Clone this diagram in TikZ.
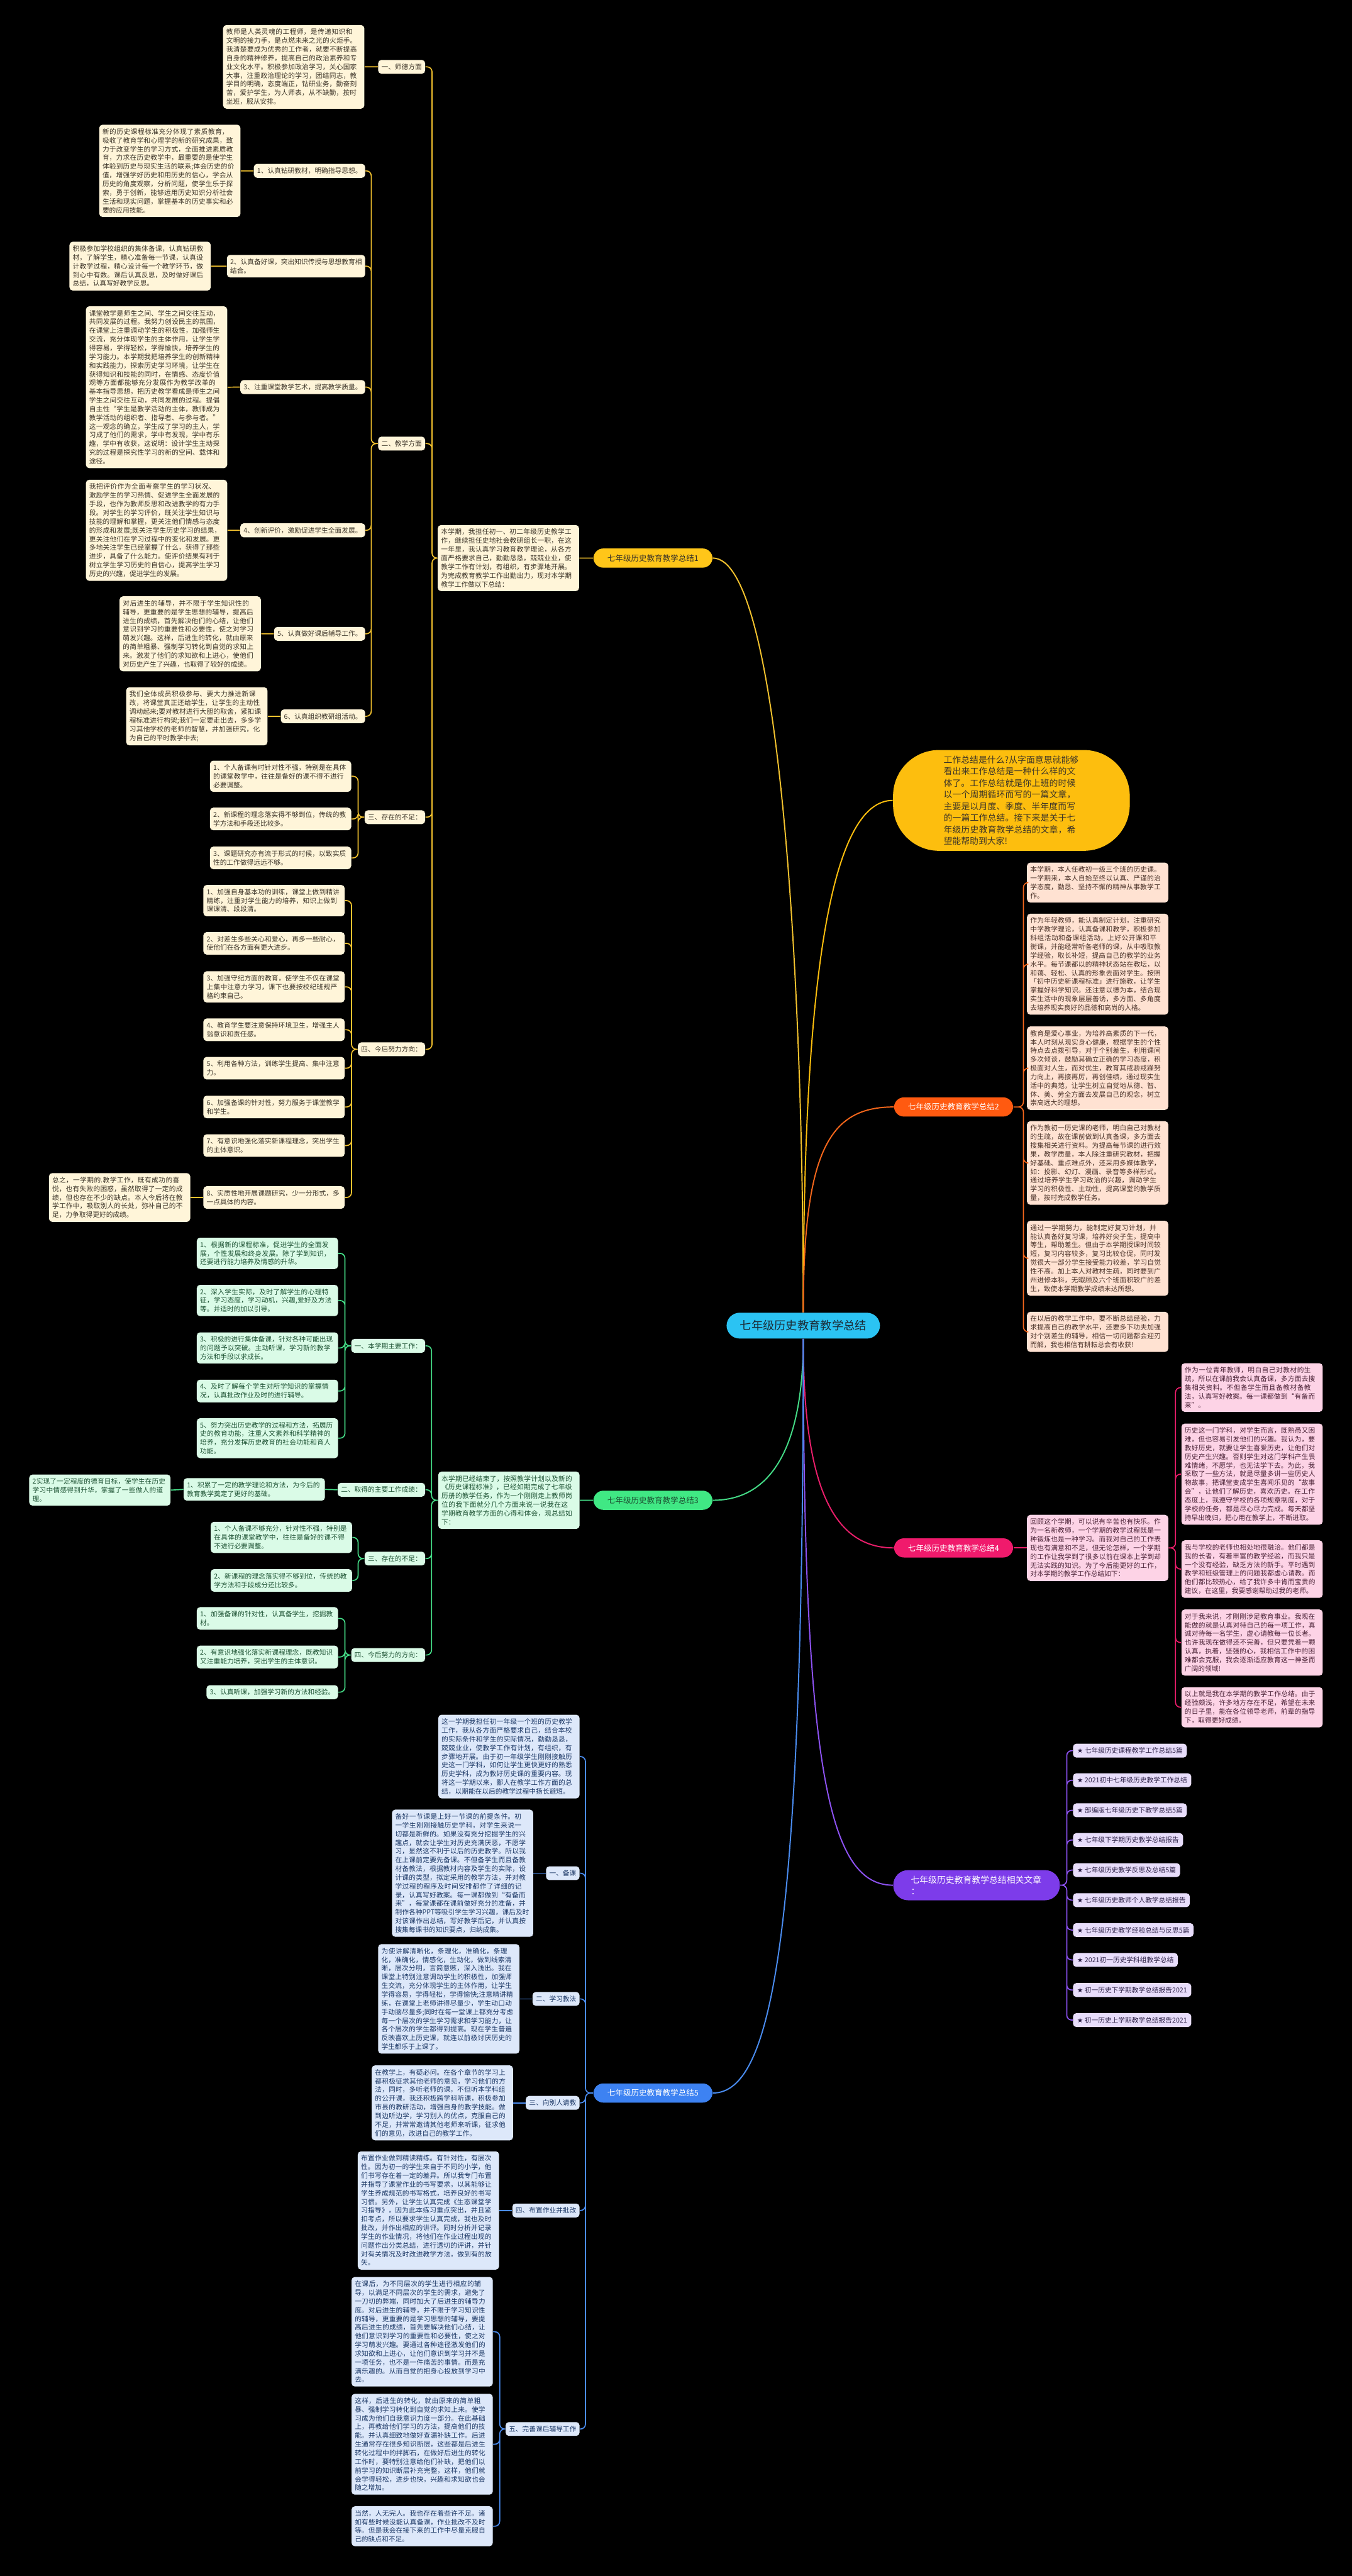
\documentclass[tikz,border=0pt]{standalone}
\usepackage{fontspec}
\setmainfont{Noto Sans CJK SC}
\newfontfamily\symfont{DejaVu Sans}
\XeTeXlinebreaklocale "zh"
\XeTeXlinebreakskip=0pt plus 0.3pt
\definecolor{rootF}{HTML}{2BC3F3}
\definecolor{rootT}{HTML}{1B2B36}
\definecolor{yNode}{HTML}{FFC619}
\definecolor{yBox}{HTML}{FFF5D9}
\definecolor{yTxt}{HTML}{3C3428}
\definecolor{yLine}{HTML}{F2C12E}
\definecolor{ellF}{HTML}{FDBE0E}
\definecolor{oNode}{HTML}{FF5A10}
\definecolor{oBox}{HTML}{FFE2D2}
\definecolor{oTxt}{HTML}{4A3228}
\definecolor{oLine}{HTML}{F4661B}
\definecolor{gNode}{HTML}{40E884}
\definecolor{gBox}{HTML}{DAFBE7}
\definecolor{gTxt}{HTML}{1D5233}
\definecolor{gLine}{HTML}{44DB86}
\definecolor{pNode}{HTML}{F01A6C}
\definecolor{pBox}{HTML}{FDD3E6}
\definecolor{pTxt}{HTML}{4A2236}
\definecolor{pLine}{HTML}{E91E6A}
\definecolor{bNode}{HTML}{3D82F2}
\definecolor{bBox}{HTML}{DDE8FA}
\definecolor{bTxt}{HTML}{1C3866}
\definecolor{bLine}{HTML}{4A8CF0}
\definecolor{vNode}{HTML}{7D3CEA}
\definecolor{vBox}{HTML}{E8DDFB}
\definecolor{vTxt}{HTML}{2E2248}
\definecolor{vLine}{HTML}{8D52F2}
\tikzset{
  base/.style={rounded corners=2pt, inner xsep=2pt, inner ysep=2.3pt, align=left, font=\fontsize{4.1}{5.3}\selectfont},
  para/.style={base, text width=82pt},
  pill/.style={rounded corners=6pt, inner xsep=8.5pt, inner ysep=3.6pt, font=\fontsize{4.8}{6}\selectfont},
  yb/.style={fill=yBox, text=yTxt},
  ob/.style={fill=oBox, text=oTxt},
  gb/.style={fill=gBox, text=gTxt},
  pb/.style={fill=pBox, text=pTxt},
  bb/.style={fill=bBox, text=bTxt},
  vb/.style={fill=vBox, text=vTxt},
  link/.style={line width=0.65pt, rounded corners=3pt},
  curve/.style={line width=0.75pt}
}
\begin{document}
\begin{tikzpicture}[x=1pt, y=-1pt]
\fill[black] (0,0) rectangle (823,1568);
\useasboundingbox (0,0) rectangle (823,1568);

\node[fill=rootF, text=rootT, rounded corners=8pt, inner xsep=8.2pt, inner ysep=4.6pt, font=\fontsize{7}{8}\selectfont] (root) at (489,806.9) {七年级历史教育教学总结};

\node[pill, fill=yNode, text=yTxt] (n1) at (397.5,339.7) {七年级历史教育教学总结1};
\node[para, yb, anchor=east] (n1in) at (352.7,339.7) {本学期，我担任初一、初二年级历史教学工作，继续担任史地社会教研组长一职，在这一年里，我认真学习教育教学理论，从各方面严格要求自己，勤勤恳恳，兢兢业业，使教学工作有计划，有组织，有步骤地开展。为完成教育教学工作出勤出力，现对本学期教学工作做以下总结：};
\coordinate (bus1) at (263,0);
\node[base, yb, anchor=east] (n1a) at (259,40.7) {一、师德方面};
\node[para, yb, anchor=east] (n1at) at (222,40.7) {教师是人类灵魂的工程师，是传递知识和文明的接力手，是点燃未来之光的火炬手。我清楚要成为优秀的工作者，就要不断提高自身的精神修养，提高自己的政治素养和专业文化水平。积极参加政治学习，关心国家大事，注重政治理论的学习，团结同志，教学目的明确，态度端正，钻研业务，勤奋刻苦，爱护学生，为人师表，从不缺勤，按时坐班，服从安排。};
\node[base, yb, anchor=east] (n1b) at (259,270) {二、教学方面};
\coordinate (bus1b) at (226,0);
\node[base, yb, anchor=east] (n1b1) at (222.5,104) {1、认真钻研教材，明确指导思想。};
\node[para, yb, anchor=east] (n1b1t) at (146.6,104) {新的历史课程标准充分体现了素质教育，吸收了教育学和心理学的新的研究成果，致力于改变学生的学习方式，全面推进素质教育，力求在历史教学中，最重要的是使学生体验到历史与现实生活的联系;体会历史的价值，增强学好历史和用历史的信心，学会从历史的角度观察，分析问题，使学生乐于探索，勇于创新，能够运用历史知识分析社会生活和现实问题，掌握基本的历史事实和必要的应用技能。};
\node[base, yb, anchor=east] (n1b2) at (222.5,162) {2、认真备好课，突出知识传授与思想教育相\\结合。};
\node[para, yb, anchor=east] (n1b2t) at (128.5,162) {积极参加学校组织的集体备课，认真钻研教材，了解学生，精心准备每一节课，认真设计教学过程，精心设计每一个教学环节，做到心中有数。课后认真反思，及时做好课后总结，认真写好教学反思。};
\node[base, yb, anchor=east] (n1b3) at (222.5,235.6) {3、注重课堂教学艺术，提高教学质量。};
\node[para, yb, anchor=east] (n1b3t) at (138.5,235.7) {课堂教学是师生之间、学生之间交往互动，共同发展的过程。我努力创设民主的氛围，在课堂上注重调动学生的积极性，加强师生交流，充分体现学生的主体作用，让学生学得容易，学得轻松，学得愉快，培养学生的学习能力。本学期我把培养学生的创新精神和实践能力，探索历史学习环境，让学生在获得知识和技能的同时，在情感、态度价值观等方面都能够充分发展作为教学改革的基本指导思想，把历史教学看成是师生之间学生之间交往互动，共同发展的过程。提倡自主性“学生是教学活动的主体，教师成为教学活动的组织者、指导者、与参与者。”这一观念的确立，学生成了学习的主人，学习成了他们的需求，学中有发现，学中有乐趣，学中有收获，这说明：设计学生主动探究的过程是探究性学习的新的空间、载体和途径。};
\node[base, yb, anchor=east] (n1b4) at (222.5,322.8) {4、创新评价，激励促进学生全面发展。};
\node[para, yb, anchor=east] (n1b4t) at (138.5,322.8) {我把评价作为全面考察学生的学习状况、激励学生的学习热情、促进学生全面发展的手段，也作为教师反思和改进教学的有力手段。对学生的学习评价，既关注学生知识与技能的理解和掌握，更关注他们情感与态度的形成和发展;既关注学生历史学习的结果，更关注他们在学习过程中的变化和发展。更多地关注学生已经掌握了什么，获得了那些进步，具备了什么能力。使评价结果有利于树立学生学习历史的自信心，提高学生学习历史的兴趣，促进学生的发展。};
\node[base, yb, anchor=east] (n1b5) at (222.5,385.8) {5、认真做好课后辅导工作。};
\node[para, yb, anchor=east] (n1b5t) at (159,385.8) {对后进生的辅导，并不限于学生知识性的辅导，更重要的是学生思想的辅导，提高后进生的成绩，首先解决他们的心结，让他们意识到学习的重要性和必要性，使之对学习萌发兴趣。这样，后进生的转化，就由原来的简单粗暴、强制学习转化到自觉的求知上来。激发了他们的求知欲和上进心，使他们对历史产生了兴趣，也取得了较好的成绩。};
\node[base, yb, anchor=east] (n1b6) at (222.5,436) {6、认真组织教研组活动。};
\node[para, yb, anchor=east] (n1b6t) at (163,436) {我们全体成员积极参与、要大力推进新课改，将课堂真正还给学生，让学生的主动性调动起来;要对教材进行大胆的取舍，紧扣课程标准进行构架;我们一定要走出去，多多学习其他学校的老师的智慧，并加强研究，化为自己的平时教学中去;};
\node[base, yb, anchor=east] (n1c) at (259,497.4) {三、存在的不足：};
\coordinate (bus1c) at (218,0);
\node[para, yb, anchor=east] (n1c1) at (214,472.5) {1、个人备课有时针对性不强，特别是在具体的课堂教学中，往往是备好的课不得不进行必要调整。};
\node[para, yb, anchor=east] (n1c2) at (214,498.5) {2、新课程的理念落实得不够到位，传统的教学方法和手段还比较多。};
\node[para, yb, anchor=east] (n1c3) at (214,522.2) {3、课题研究亦有流于形式的时候，以致实质性的工作做得远远不够。};
\node[base, yb, anchor=east] (n1d) at (259,638.7) {四、今后努力方向：};
\coordinate (bus1d) at (214,0);
\node[para, yb, anchor=east] (n1d1) at (210,548.2) {1、加强自身基本功的训练，课堂上做到精讲精练，注重对学生能力的培养，知识上做到课课清、段段清。};
\node[para, yb, anchor=east] (n1d2) at (210,574.2) {2、对差生多些关心和爱心，再多一些耐心，使他们在各方面有更大进步。};
\node[para, yb, anchor=east] (n1d3) at (210,600.7) {3、加强守纪方面的教育，使学生不仅在课堂上集中注意力学习，课下也要按校纪班规严格约束自己。};
\node[para, yb, anchor=east] (n1d4) at (210,626.8) {4、教育学生要注意保持环境卫生，增强主人翁意识和责任感。};
\node[para, yb, anchor=east] (n1d5) at (210,650.2) {5、利用各种方法，训练学生提高、集中注意力。};
\node[para, yb, anchor=east] (n1d6) at (210,673.8) {6、加强备课的针对性，努力服务于课堂教学和学生。};
\node[para, yb, anchor=east] (n1d7) at (210,697.3) {7、有意识地强化落实新课程理念，突出学生的主体意识。};
\node[para, yb, anchor=east] (n1d8) at (210,728.9) {8、实质性地开展课题研究，少一分形式，多一点具体的内容。};
\node[para, yb, anchor=east] (n1d8t) at (116,728.9) {总之，一学期的.教学工作，既有成功的喜悦，也有失败的困惑，虽然取得了一定的成绩，但也存在不少的缺点。本人今后将在教学工作中，吸取别人的长处，弥补自己的不足，力争取得更好的成绩。};

\draw[link, draw=yLine] (n1.west) -- (n1in.east) (n1a.west) -- (n1at.east)
  (n1b1.west) -- (n1b1t.east) (n1b2.west) -- (n1b2t.east) (n1b3.west) -- (n1b3t.east)
  (n1b4.west) -- (n1b4t.east) (n1b5.west) -- (n1b5t.east) (n1b6.west) -- (n1b6t.east)
  (n1d8.west) -- (n1d8t.east);
\draw[link, draw=yLine] (n1in.west) -- (bus1 |- n1in.west) |- (n1a.east)
  (n1in.west) -- (bus1 |- n1in.west) |- (n1b.east)
  (n1in.west) -- (bus1 |- n1in.west) |- (n1c.east)
  (n1in.west) -- (bus1 |- n1in.west) |- (n1d.east);
\draw[link, draw=yLine] (n1b.west) -- (bus1b |- n1b.west) |- (n1b1.east)
  (n1b.west) -- (bus1b |- n1b.west) |- (n1b2.east)
  (n1b.west) -- (bus1b |- n1b.west) |- (n1b3.east)
  (n1b.west) -- (bus1b |- n1b.west) |- (n1b4.east)
  (n1b.west) -- (bus1b |- n1b.west) |- (n1b5.east)
  (n1b.west) -- (bus1b |- n1b.west) |- (n1b6.east);
\draw[link, draw=yLine] (n1c.west) -- (bus1c |- n1c.west) |- (n1c1.east)
  (n1c.west) -- (bus1c |- n1c.west) |- (n1c2.east)
  (n1c.west) -- (bus1c |- n1c.west) |- (n1c3.east);
\draw[link, draw=yLine] (n1d.west) -- (bus1d |- n1d.west) |- (n1d1.east)
  (n1d.west) -- (bus1d |- n1d.west) |- (n1d2.east)
  (n1d.west) -- (bus1d |- n1d.west) |- (n1d3.east)
  (n1d.west) -- (bus1d |- n1d.west) |- (n1d4.east)
  (n1d.west) -- (bus1d |- n1d.west) |- (n1d5.east)
  (n1d.west) -- (bus1d |- n1d.west) |- (n1d6.east)
  (n1d.west) -- (bus1d |- n1d.west) |- (n1d7.east)
  (n1d.west) -- (bus1d |- n1d.west) |- (n1d8.east);

\node[fill=ellF, text=yTxt, rounded corners=28pt, text width=82.5pt, inner xsep=30.8pt, inner ysep=3.5pt, align=left, font=\fontsize{5.3}{7.06}\selectfont] (ell) at (615.7,487.2) {工作总结是什么?从字面意思就能够看出来工作总结是一种什么样的文体了。工作总结就是你上班的时候以一个周期循环而写的一篇文章，主要是以月度、季度、半年度而写的一篇工作总结。接下来是关于七年级历史教育教学总结的文章，希望能帮助到大家!};

\node[pill, fill=oNode, text=white] (n2) at (580.5,673.8) {七年级历史教育教学总结2};
\coordinate (bus2) at (623,0);
\node[para, ob, anchor=west] (n2a) at (625,537.2) {本学期，本人任教初一级三个班的历史课。一学期来，本人自始至终以认真、严谨的治学态度，勤恳、坚持不懈的精神从事教学工作。};
\node[para, ob, anchor=west] (n2b) at (625,586.9) {作为年轻教师，能认真制定计划，注重研究中学教学理论，认真备课和教学，积极参加科组活动和备课组活动，上好公开课和平衡课，并能经常听各老师的课，从中吸取教学经验，取长补短，提高自己的教学的业务水平。每节课都以的精神状态站在教坛，以和蔼、轻松、认真的形象去面对学生。按照「初中历史新课程标准」进行施教，让学生掌握好科学知识。还注意以德为本，结合现实生活中的现象层层善诱，多方面、多角度去培养现实良好的品德和高尚的人格。};
\node[para, ob, anchor=west] (n2c) at (625,650.2) {教育是爱心事业，为培养高素质的下一代，本人时刻从现实身心健康，根据学生的个性特点去点拨引导，对于个别差生，利用课间多次倾谈，鼓励其确立正确的学习态度，积极面对人生，而对优生，教育其戒骄戒躁努力向上，再接再厉，再创佳绩，通过现实生活中的典范，让学生树立自觉地从德、智、体、美、劳全方面去发展自己的观念，树立崇高远大的理想。};
\node[para, ob, anchor=west] (n2d) at (625,707.9) {作为教初一历史课的老师，明白自己对教材的生疏，故在课前做到认真备课，多方面去搜集相关进行资料。为提高每节课的进行效果，教学质量，本人除注重研究教材，把握好基础、重点难点外，还采用多媒体教学，如：投影、幻灯、漫画、录音等多样形式。通过培养学生学习政治的兴趣，调动学生学习的积极性、主动性，提高课堂的教学质量，按时完成教学任务。};
\node[para, ob, anchor=west] (n2e) at (625,765.9) {通过一学期努力，能制定好复习计划，并能认真备好复习课，培养好尖子生，提高中等生，帮助差生。但由于本学期授课时间较短，复习内容较多，复习比较仓促，同时发觉很大一部分学生接受能力较差，学习自觉性不高。加上本人对教材生疏，同时要到广州进修本科，无暇顾及六个班面积较广的差生，致使本学期教学成绩未达所想。};
\node[para, ob, anchor=west] (n2f) at (625,810.7) {在以后的教学工作中，要不断总结经验，力求提高自己的教学水平，还要多下功夫加强对个别差生的辅导，相信一切问题都会迎刃而解，我也相信有耕耘总会有收获!};
\draw[link, draw=oLine] (n2.east) -- (bus2 |- n2.east) |- (n2a.west)
  (n2.east) -- (bus2 |- n2.east) |- (n2b.west)
  (n2.east) -- (bus2 |- n2.east) |- (n2c.west)
  (n2.east) -- (bus2 |- n2.east) |- (n2d.west)
  (n2.east) -- (bus2 |- n2.east) |- (n2e.west)
  (n2.east) -- (bus2 |- n2.east) |- (n2f.west);

\node[pill, fill=gNode, text=gTxt] (n3) at (397.5,913.2) {七年级历史教育教学总结3};
\node[para, gb, anchor=east] (n3in) at (353,913.2) {本学期已经结束了，按照教学计划以及新的《历史课程标准》，已经如期完成了七年级历册的教学任务，作为一个刚刚走上教师岗位的我下面就分几个方面来说一说我在这学期教育教学方面的心得和体会，现总结如下：};
\coordinate (bus3) at (262.7,0);
\node[base, gb, anchor=east] (n3a) at (259,819.2) {一、本学期主要工作：};
\coordinate (bus3a) at (210,0);
\node[para, gb, anchor=east] (n3a1) at (206,762.9) {1、根据新的课程标准，促进学生的全面发展，个性发展和终身发展。除了学到知识，还要进行能力培养及情感的升华。};
\node[para, gb, anchor=east] (n3a2) at (206,791.6) {2、深入学生实际，及时了解学生的心理特征，学习态度，学习动机，兴趣,爱好及方法等。并适时的加以引导。};
\node[para, gb, anchor=east] (n3a3) at (206,820.5) {3、积极的进行集体备课，针对各种可能出现的问题予以突破。主动听课，学习新的教学方法和手段以求成长。};
\node[para, gb, anchor=east] (n3a4) at (206,846.7) {4、及时了解每个学生对所学知识的掌握情况，认真批改作业及时的进行辅导。};
\node[para, gb, anchor=east] (n3a5) at (206,875.4) {5、努力突出历史教学的过程和方法，拓展历史的教育功能，注重人文素养和科学精神的培养，充分发挥历史教育的社会功能和育人功能。};
\node[base, gb, anchor=east] (n3b) at (259,906.8) {二、取得的主要工作成绩：};
\node[para, gb, anchor=east] (n3b1) at (198,906.6) {1、积累了一定的教学理论和方法，为今后的教育教学奠定了更好的基础。};
\node[para, gb, anchor=east] (n3b1t) at (104,907) {2实现了一定程度的德育目标，使学生在历史学习中情感得到升华，掌握了一些做人的道理。};
\node[base, gb, anchor=east] (n3c) at (259,948.7) {三、存在的不足：};
\coordinate (bus3c) at (218,0);
\node[para, gb, anchor=east] (n3c1) at (214.5,935.8) {1、个人备课不够充分，针对性不强，特别是在具体的课堂教学中，往往是备好的课不得不进行必要调整。};
\node[para, gb, anchor=east] (n3c2) at (214.5,962) {2、新课程的理念落实得不够到位，传统的教学方法和手段成分还比较多。};
\node[base, gb, anchor=east] (n3d) at (259,1007.4) {四、今后努力的方向：};
\coordinate (bus3d) at (210,0);
\node[para, gb, anchor=east] (n3d1) at (206,985.1) {1、加强备课的针对性，认真备学生，挖掘教材。};
\node[para, gb, anchor=east] (n3d2) at (206,1008.6) {2、有意识地强化落实新课程理念，既教知识又注重能力培养，突出学生的主体意识。};
\node[base, gb, anchor=east] (n3d3) at (206,1030) {3、认真听课，加强学习新的方法和经验。};
\draw[link, draw=gLine] (n3.west) -- (n3in.east) (n3b.west) -- (n3b1.east) (n3b1.west) -- (n3b1t.east);
\draw[link, draw=gLine] (n3in.west) -- (bus3 |- n3in.west) |- (n3a.east)
  (n3in.west) -- (bus3 |- n3in.west) |- (n3b.east)
  (n3in.west) -- (bus3 |- n3in.west) |- (n3c.east)
  (n3in.west) -- (bus3 |- n3in.west) |- (n3d.east);
\draw[link, draw=gLine] (n3a.west) -- (bus3a |- n3a.west) |- (n3a1.east)
  (n3a.west) -- (bus3a |- n3a.west) |- (n3a2.east)
  (n3a.west) -- (bus3a |- n3a.west) |- (n3a3.east)
  (n3a.west) -- (bus3a |- n3a.west) |- (n3a4.east)
  (n3a.west) -- (bus3a |- n3a.west) |- (n3a5.east);
\draw[link, draw=gLine] (n3c.west) -- (bus3c |- n3c.west) |- (n3c1.east)
  (n3c.west) -- (bus3c |- n3c.west) |- (n3c2.east);
\draw[link, draw=gLine] (n3d.west) -- (bus3d |- n3d.west) |- (n3d1.east)
  (n3d.west) -- (bus3d |- n3d.west) |- (n3d2.east)
  (n3d.west) -- (bus3d |- n3d.west) |- (n3d3.east);

\node[pill, fill=pNode, text=white] (n4) at (580.5,942.2) {七年级历史教育教学总结4};
\node[para, pb, anchor=west] (n4in) at (625,942.2) {回顾这个学期，可以说有辛苦也有快乐。作为一名新教师，一个学期的教学过程既是一种锻炼也是一种学习。而我对自己的工作表现也有满意和不足，但无论怎样，一个学期的工作让我学到了很多以前在课本上学到却无法实践的知识。为了今后能更好的工作，对本学期的教学工作总结如下：};
\coordinate (bus4) at (715.6,0);
\node[para, pb, anchor=west] (n4a) at (719,844.6) {作为一位青年教师，明白自己对教材的生疏，所以在课前我会认真备课，多方面去搜集相关资料。不但备学生而且备教材备教法，认真写好教案。每一课都做到“有备而来”。};
\node[para, pb, anchor=west] (n4b) at (719,897.3) {历史这一门学科，对学生而言，既熟悉又困难，但也容易引发他们的兴趣。我认为，要教好历史，就要让学生喜爱历史，让他们对历史产生兴趣。否则学生对这门学科产生畏难情绪，不愿学，也无法学下去。为此，我采取了一些方法，就是尽量多讲一些历史人物故事，把课堂变成学生喜闻乐见的“故事会”，让他们了解历史，喜欢历史。在工作态度上，我遵守学校的各项规章制度，对于学校的任务，都是尽心尽力完成。每天都坚持早出晚归，把心用在教学上，不断进取。};
\node[para, pb, anchor=west] (n4c) at (719,955.1) {我与学校的老师也相处地很融洽。他们都是我的长者，有着丰富的教学经验，而我只是一个没有经验，缺乏方法的新手。平时遇到教学和班级管理上的问题我都虚心请教。而他们都比较热心，给了我许多中肯而宝贵的建议，在这里，我要感谢帮助过我的老师。};
\node[para, pb, anchor=west] (n4d) at (719,999.8) {对于我来说，才刚刚涉足教育事业。我现在能做的就是认真对待自己的每一项工作，真诚对待每一名学生，虚心请教每一位长者。也许我现在做得还不完善，但只要凭着一颗认真，执着，坚强的心，我相信工作中的困难都会克服，我会逐渐适应教育这一神圣而广阔的领域!};
\node[para, pb, anchor=west] (n4e) at (719,1039.2) {以上就是我在本学期的教学工作总结。由于经验颇浅，许多地方存在不足，希望在未来的日子里，能在各位领导老师，前辈的指导下，取得更好成绩。};
\draw[link, draw=pLine] (n4.east) -- (n4in.west);
\draw[link, draw=pLine] (n4in.east) -- (bus4 |- n4in.east) |- (n4a.west)
  (n4in.east) -- (bus4 |- n4in.east) |- (n4b.west)
  (n4in.east) -- (bus4 |- n4in.east) |- (n4c.west)
  (n4in.east) -- (bus4 |- n4in.east) |- (n4d.west)
  (n4in.east) -- (bus4 |- n4in.east) |- (n4e.west);

\node[pill, fill=vNode, text=white, rounded corners=9pt, text width=80pt, inner xsep=10.7pt, inner ysep=3.3pt, align=left, font=\fontsize{5.3}{7.2}\selectfont] (nr) at (594.5,1147.5) {七年级历史教育教学总结相关文章\\：};
\coordinate (busr) at (649.4,0);
\node[base, vb, anchor=west, inner xsep=2.5pt] (nr1) at (653,1065.6) {{\symfont ★} 七年级历史课程教学工作总结5篇};
\node[base, vb, anchor=west, inner xsep=2.5pt] (nr2) at (653,1083.6) {{\symfont ★} 2021初中七年级历史教学工作总结};
\node[base, vb, anchor=west, inner xsep=2.5pt] (nr3) at (653,1101.9) {{\symfont ★} 部编版七年级历史下教学总结5篇};
\node[base, vb, anchor=west, inner xsep=2.5pt] (nr4) at (653,1120) {{\symfont ★} 七年级下学期历史教学总结报告};
\node[base, vb, anchor=west, inner xsep=2.5pt] (nr5) at (653,1138.3) {{\symfont ★} 七年级历史教学反思及总结5篇};
\node[base, vb, anchor=west, inner xsep=2.5pt] (nr6) at (653,1156.6) {{\symfont ★} 七年级历史教师个人教学总结报告};
\node[base, vb, anchor=west, inner xsep=2.5pt] (nr7) at (653,1174.8) {{\symfont ★} 七年级历史教学经验总结与反思5篇};
\node[base, vb, anchor=west, inner xsep=2.5pt] (nr8) at (653,1193) {{\symfont ★} 2021初一历史学科组教学总结};
\node[base, vb, anchor=west, inner xsep=2.5pt] (nr9) at (653,1211.3) {{\symfont ★} 初一历史下学期教学总结报告2021};
\node[base, vb, anchor=west, inner xsep=2.5pt] (nr10) at (653,1229.6) {{\symfont ★} 初一历史上学期教学总结报告2021};
\draw[link, draw=vLine] (nr.east) -- (busr |- nr.east) |- (nr1.west)
  (nr.east) -- (busr |- nr.east) |- (nr2.west)
  (nr.east) -- (busr |- nr.east) |- (nr3.west)
  (nr.east) -- (busr |- nr.east) |- (nr4.west)
  (nr.east) -- (busr |- nr.east) |- (nr5.west)
  (nr.east) -- (busr |- nr.east) |- (nr6.west)
  (nr.east) -- (busr |- nr.east) |- (nr7.west)
  (nr.east) -- (busr |- nr.east) |- (nr8.west)
  (nr.east) -- (busr |- nr.east) |- (nr9.west)
  (nr.east) -- (busr |- nr.east) |- (nr10.west);

\node[pill, fill=bNode, text=white] (n5) at (397.5,1274) {七年级历史教育教学总结5};
\coordinate (bus5) at (356.4,0);
\node[para, bb, anchor=east] (n5in) at (353,1069.2) {这一学期我担任初一年级一个班的历史教学工作，我从各方面严格要求自己，结合本校的实际条件和学生的实际情况，勤勤恳恳，兢兢业业，使教学工作有计划，有组织，有步骤地开展。由于初一年级学生刚刚接触历史这一门学科，如何让学生更快更好的熟悉历史学科，成为教好历史课的重要内容。现将这一学期以来，鄙人在教学工作方面的总结，以期能在以后的教学过程中扬长避短。};
\node[base, bb, anchor=east] (n5a) at (353,1140.2) {一、备课};
\node[para, bb, anchor=east] (n5at) at (324.8,1140.2) {备好一节课是上好一节课的前提条件。初一学生刚刚接触历史学科，对学生来说一切都是新鲜的。如果没有充分挖掘学生的兴趣点，就会让学生对历史充满厌恶，不愿学习，显然这不利于以后的历史教学。所以我在上课前定要先备课。不但备学生而且备教材备教法，根据教材内容及学生的实际，设计课的类型，拟定采用的教学方法，并对教学过程的程序及时间安排都作了详细的记录，认真写好教案。每一课都做到“有备而来”，每堂课都在课前做好充分的准备，并制作各种PPT等吸引学生学习兴趣，课后及时对该课作出总结，写好教学后记，并认真按搜集每课书的知识要点，归纳成集。};
\node[base, bb, anchor=east] (n5b) at (353,1216.7) {二、学习教法};
\node[para, bb, anchor=east] (n5bt) at (316.4,1216.7) {为使讲解清晰化，条理化，准确化，条理化，准确化，情感化，生动化，做到线索清晰，层次分明，言简意赅，深入浅出。我在课堂上特别注意调动学生的积极性，加强师生交流，充分体现学生的主体作用，让学生学得容易，学得轻松，学得愉快;注意精讲精练，在课堂上老师讲得尽量少，学生动口动手动脑尽量多;同时在每一堂课上都充分考虑每一个层次的学生学习需求和学习能力，让各个层次的学生都得到提高。现在学生普遍反映喜欢上历史课，就连以前极讨厌历史的学生都乐于上课了。};
\node[base, bb, anchor=east] (n5c) at (353,1280) {三、向别人请教};
\node[para, bb, anchor=east] (n5ct) at (312.5,1280) {在教学上，有疑必问。在各个章节的学习上都积极征求其他老师的意见，学习他们的方法，同时，多听老师的课，不但听本学科组的公开课，我还积极跨学科听课，积极参加市县的教研活动，增强自身的教学技能。做到边听边学，学习别人的优点，克服自己的不足，并常常邀请其他老师来听课，征求他们的意见，改进自己的教学工作。};
\node[base, bb, anchor=east] (n5d) at (353,1345.5) {四、布置作业并批改};
\node[para, bb, anchor=east] (n5dt) at (304,1345.5) {布置作业做到精读精练。有针对性，有层次性。因为初一的学生来自于不同的小学，他们书写存在着一定的差异。所以我专门布置并指导了课堂作业的书写要求，以其能够让学生养成规范的书写格式，培养良好的书写习惯。另外，让学生认真完成《生态课堂学习指导》，因为此本练习重点突出，并且紧扣考点，所以要求学生认真完成，我也及时批改，并作出相应的讲评。同时分析并记录学生的作业情况，将他们在作业过程出现的问题作出分类总结，进行透切的评讲，并针对有关情况及时改进教学方法，做到有的放矢。};
\node[base, bb, anchor=east] (n5e) at (353,1478.5) {五、完善课后辅导工作};
\coordinate (bus5e) at (304.2,0);
\node[para, bb, anchor=east] (n5e1) at (300.2,1419.3) {在课后，为不同层次的学生进行相应的辅导，以满足不同层次的学生的需求，避免了一刀切的弊端，同时加大了后进生的辅导力度。对后进生的辅导，并不限于学习知识性的辅导，更重要的是学习思想的辅导，要提高后进生的成绩，首先要解决他们心结，让他们意识到学习的重要性和必要性，使之对学习萌发兴趣。要通过各种途径激发他们的求知欲和上进心，让他们意识到学习并不是一项任务，也不是一件痛苦的事情。而是充满乐趣的。从而自觉的把身心投放到学习中去。};
\node[para, bb, anchor=east] (n5e2) at (300.2,1487.8) {这样，后进生的转化，就由原来的简单粗暴、强制学习转化到自觉的求知上来。使学习成为他们自我意识力度一部分。在此基础上，再教给他们学习的方法，提高他们的技能。并认真细致地做好查漏补缺工作。后进生通常存在很多知识断层，这些都是后进生转化过程中的拌脚石，在做好后进生的转化工作时，要特别注意给他们补缺，把他们以前学习的知识断层补充完整，这样，他们就会学得轻松，进步也快，兴趣和求知欲也会随之增加。};
\node[para, bb, anchor=east] (n5e3) at (300.2,1537.7) {当然，人无完人。我也存在着些许不足。诸如有些时候没能认真备课，作业批改不及时等。但是我会在接下来的工作中尽量克服自己的缺点和不足。};
\draw[link, draw=bLine] (n5a.west) -- (n5at.east) (n5b.west) -- (n5bt.east) (n5c.west) -- (n5ct.east) (n5d.west) -- (n5dt.east);
\draw[link, draw=bLine] (n5.west) -- (bus5 |- n5.west) |- (n5in.east)
  (n5.west) -- (bus5 |- n5.west) |- (n5a.east)
  (n5.west) -- (bus5 |- n5.west) |- (n5b.east)
  (n5.west) -- (bus5 |- n5.west) |- (n5c.east)
  (n5.west) -- (bus5 |- n5.west) |- (n5d.east)
  (n5.west) -- (bus5 |- n5.west) |- (n5e.east);
\draw[link, draw=bLine] (n5e.west) -- (bus5e |- n5e.west) |- (n5e1.east)
  (n5e.west) -- (bus5e |- n5e.west) |- (n5e2.east)
  (n5e.west) -- (bus5e |- n5e.west) |- (n5e3.east);

\draw[curve, draw=yLine] (root.north) .. controls (489,600) and (475,339.7) .. (n1.east);
\draw[curve, draw=ellF] (root.north) .. controls (489,600) and (505,487.2) .. (ell.west);
\draw[curve, draw=oLine] (root.north) .. controls (489,700) and (505,673.8) .. (n2.west);
\draw[curve, draw=gLine] (root.south) .. controls (489,880) and (470,913.2) .. (n3.east);
\draw[curve, draw=pLine] (root.south) .. controls (489,900) and (505,942.2) .. (n4.west);
\draw[curve, draw=vLine] (root.south) .. controls (489,1080) and (505,1147.5) .. (nr.west);
\draw[curve, draw=bLine] (root.south) .. controls (489,1180) and (470,1274) .. (n5.east);
\end{tikzpicture}
\end{document}
